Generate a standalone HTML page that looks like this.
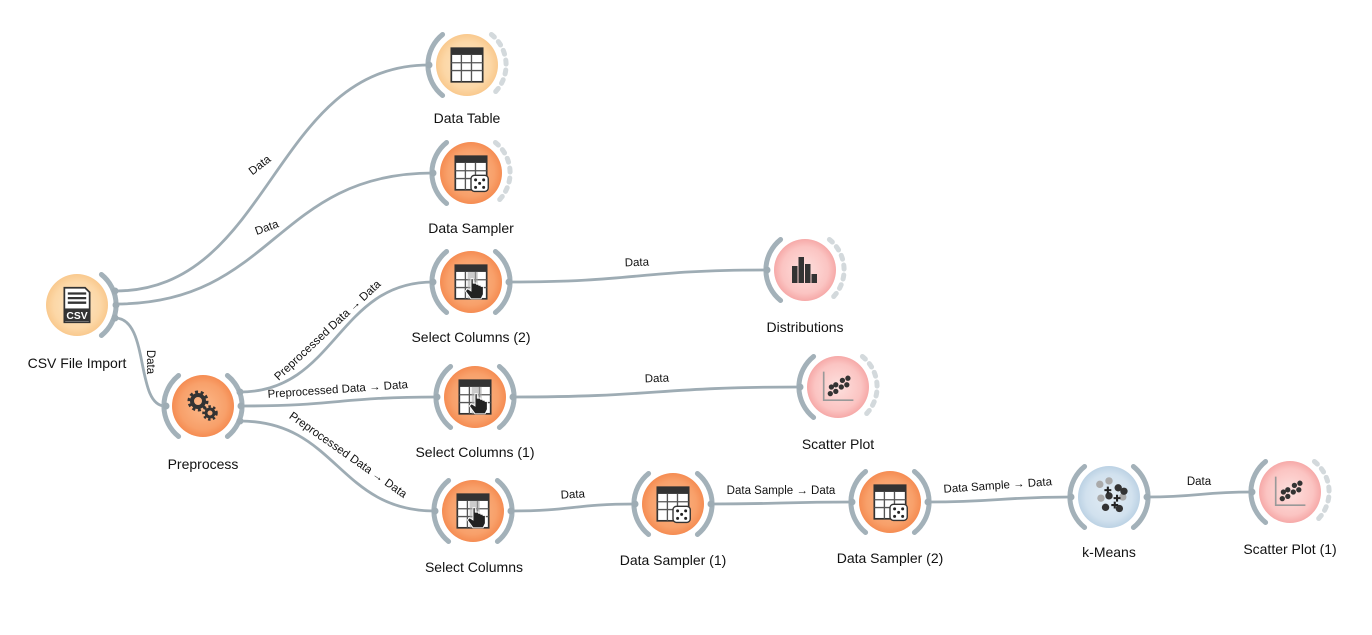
<!DOCTYPE html>
<html><head><meta charset="utf-8"><style>
html,body{margin:0;padding:0;background:#fff;width:1372px;height:635px;overflow:hidden}
svg{display:block}
.lbl{font-family:"Liberation Sans",sans-serif;font-size:14px;fill:#111;text-anchor:middle}
.el{font-family:"Liberation Sans",sans-serif;font-size:11.5px;fill:#111;text-anchor:middle}
.e{fill:none;stroke:#9eacb4;stroke-width:2.8}
</style></head><body>
<svg width="1372" height="635" viewBox="0 0 1372 635" xmlns="http://www.w3.org/2000/svg">
<defs>
<radialGradient id="gLO" cx="50%" cy="50%" r="50%"><stop offset="0" stop-color="#fde6c6"/><stop offset="0.75" stop-color="#fcd7a6"/><stop offset="1" stop-color="#f9c98e"/></radialGradient>
<radialGradient id="gO" cx="50%" cy="50%" r="50%"><stop offset="0" stop-color="#fbb98a"/><stop offset="0.75" stop-color="#f8a06a"/><stop offset="1" stop-color="#f58c52"/></radialGradient>
<radialGradient id="gP" cx="50%" cy="50%" r="50%"><stop offset="0" stop-color="#fde0de"/><stop offset="0.75" stop-color="#fbc4c2"/><stop offset="1" stop-color="#f6a9a8"/></radialGradient>
<radialGradient id="gB" cx="50%" cy="50%" r="50%"><stop offset="0" stop-color="#e3edf5"/><stop offset="0.75" stop-color="#d1e1ee"/><stop offset="1" stop-color="#bcd2e4"/></radialGradient>
<g id="aL"><path d="M-24.4,-30.5 A39 39 0 0 0 -24.4,30.5" fill="none" stroke="#a3b1b9" stroke-width="5" stroke-linecap="round"/></g>
<g id="aR"><path d="M24.4,-30.5 A39 39 0 0 1 24.4,30.5" fill="none" stroke="#a3b1b9" stroke-width="5" stroke-linecap="round"/></g>
<g id="aD"><path d="M24.4,-30.5 A39 39 0 0 1 24.4,30.5" fill="none" stroke="#d3d9dc" stroke-width="5" stroke-dasharray="4 6" stroke-linecap="round"/></g>
<g id="tbl" transform="scale(1.12)">
<rect x="-14" y="-15" width="28" height="30" fill="#fff" stroke="#333" stroke-width="1.5"/>
<rect x="-14" y="-15" width="28" height="6" fill="#333"/>
<path d="M-14,-2H14M-14,5H14M-5,-9V15M4,-9V15" stroke="#555" stroke-width="1.2"/>
</g>
<g id="dice" transform="scale(1.15)">
<rect x="0" y="2" width="15" height="14" rx="3" fill="#fff" stroke="#333" stroke-width="1.2"/>
<circle cx="4" cy="6" r="1.3" fill="#222"/><circle cx="11" cy="6" r="1.3" fill="#222"/><circle cx="7.5" cy="9" r="1.3" fill="#222"/><circle cx="4" cy="12.5" r="1.3" fill="#222"/><circle cx="11" cy="12.5" r="1.3" fill="#222"/>
</g>
<g id="hand" transform="scale(1.12)">
<rect x="-3" y="-9" width="9" height="24" fill="#aaa" opacity="0.6"/>
<path d="M0,-3 v11 l-3,-2 l-2,2 l5,7 h9 l2,-4 v-7 h-2 v-1 h-2 v-1 h-2 v-1 h-3 v-4 z" fill="#222" stroke="#fff" stroke-width="0.8"/>
</g>
<g id="scat" transform="scale(1.1)">
<path d="M-13,-14V12H14" fill="none" stroke="#999" stroke-width="1.5"/>
<g fill="#333"><circle cx="-7" cy="6" r="2.4"/><circle cx="-2" cy="4" r="2.4"/><circle cx="-2" cy="-2" r="2.4"/><circle cx="3" cy="0" r="2.4"/><circle cx="4" cy="-6" r="2.4"/><circle cx="9" cy="-8" r="2.4"/><circle cx="8" cy="-2" r="2.4"/><circle cx="-6" cy="0" r="2.4"/></g>
</g>
</defs>

<path class="e" d="M115 291 C272 291,272 65,429 65"/>
<path class="e" d="M116 304 C274 304,275 173,433 173"/>
<path class="e" d="M115 318 C150 318,135 406,165 406"/>
<path class="e" d="M240 392 C336 392,337 282,433 282"/>
<path class="e" d="M241 406 C339 406,339 397,437 397"/>
<path class="e" d="M240 421 C337 421,338 511,435 511"/>
<path class="e" d="M509 282 C638 282,638 270,767 270"/>
<path class="e" d="M513 397 C656 397,657 387,800 387"/>
<path class="e" d="M511 511 C573 511,573 504,635 504"/>
<path class="e" d="M711 504 C781 504,782 502,852 502"/>
<path class="e" d="M928 502 C999 502,1000 497,1071 497"/>
<path class="e" d="M1147 497 C1199 497,1200 492,1252 492"/>

<text class="el" transform="translate(262,168) rotate(-38)">Data</text>
<text class="el" transform="translate(268,231) rotate(-20)">Data</text>
<text class="el" transform="translate(147,362) rotate(90)">Data</text>
<text class="el" transform="translate(330,333) rotate(-43)">Preprocessed Data → Data</text>
<text class="el" transform="translate(338,393) rotate(-4)">Preprocessed Data → Data</text>
<text class="el" transform="translate(346,458) rotate(35)">Preprocessed Data → Data</text>
<text class="el" transform="translate(637,266) rotate(-2)">Data</text>
<text class="el" transform="translate(657,382) rotate(-2)">Data</text>
<text class="el" transform="translate(573,498) rotate(-3)">Data</text>
<text class="el" transform="translate(781,494)">Data Sample → Data</text>
<text class="el" transform="translate(998,489) rotate(-4)">Data Sample → Data</text>
<text class="el" transform="translate(1199,485)">Data</text>

<g transform="translate(77,305)">
<circle r="31" fill="url(#gLO)"/><use href="#aR"/>
<g transform="scale(1.15)">
<path d="M-11,-15 H7 L11,-11 V15 H-11 Z" fill="#fff" stroke="#333" stroke-width="1.5"/>
<path d="M-8,-10H8M-8,-6H8M-8,-2H8" stroke="#333" stroke-width="2"/>
<rect x="-11" y="3" width="22" height="11" fill="#333"/>
<text x="0" y="12" font-family="Liberation Sans,sans-serif" font-size="9" font-weight="bold" fill="#fff" text-anchor="middle">CSV</text>
</g>
</g>
<circle cx="115" cy="291" r="3.5" fill="#9eacb4"/><circle cx="116" cy="305" r="3.5" fill="#9eacb4"/><circle cx="115" cy="318" r="3.5" fill="#9eacb4"/>
<text class="lbl" x="77" y="368">CSV File Import</text>

<g transform="translate(203,406)">
<circle r="31" fill="url(#gO)"/><use href="#aL"/><use href="#aR"/>
<circle cx="-5" cy="-5" r="6" fill="none" stroke="#333" stroke-width="4"/>
<circle cx="-5" cy="-5" r="9" fill="none" stroke="#333" stroke-width="3" stroke-dasharray="3 2.6"/>
<circle cx="7" cy="7" r="4" fill="none" stroke="#333" stroke-width="3"/>
<circle cx="7" cy="7" r="6.5" fill="none" stroke="#333" stroke-width="2.5" stroke-dasharray="2.5 2.3"/>
</g>
<circle cx="166" cy="406" r="3.5" fill="#9eacb4"/>
<circle cx="240" cy="392" r="3.5" fill="#9eacb4"/><circle cx="241" cy="406" r="3.5" fill="#9eacb4"/><circle cx="240" cy="421" r="3.5" fill="#9eacb4"/>
<text class="lbl" x="203" y="469">Preprocess</text>

<g transform="translate(467,65)"><circle r="31" fill="url(#gLO)"/><use href="#aL"/><use href="#aD"/><use href="#tbl"/></g>
<circle cx="429" cy="65" r="3.5" fill="#9eacb4"/>
<text class="lbl" x="467" y="123">Data Table</text>

<g transform="translate(471,173)"><circle r="31" fill="url(#gO)"/><use href="#aL"/><use href="#aD"/><use href="#tbl"/><use href="#dice"/></g>
<circle cx="433" cy="173" r="3.5" fill="#9eacb4"/>
<text class="lbl" x="471" y="233">Data Sampler</text>

<g transform="translate(471,282)"><circle r="31" fill="url(#gO)"/><use href="#aL"/><use href="#aR"/><use href="#tbl"/><use href="#hand"/></g>
<circle cx="433" cy="282" r="3.5" fill="#9eacb4"/><circle cx="509" cy="282" r="3.5" fill="#9eacb4"/>
<text class="lbl" x="471" y="342">Select Columns (2)</text>

<g transform="translate(805,270)"><circle r="31" fill="url(#gP)"/><use href="#aL"/><use href="#aD"/>
<g fill="#333"><rect x="-13" y="-4" width="5.5" height="17"/><rect x="-6.5" y="-13" width="5.5" height="26"/><rect x="0" y="-6" width="5.5" height="19"/><rect x="6.5" y="4" width="5.5" height="9"/></g></g>
<circle cx="767" cy="270" r="3.5" fill="#9eacb4"/>
<text class="lbl" x="805" y="332">Distributions</text>

<g transform="translate(475,397)"><circle r="31" fill="url(#gO)"/><use href="#aL"/><use href="#aR"/><use href="#tbl"/><use href="#hand"/></g>
<circle cx="437" cy="397" r="3.5" fill="#9eacb4"/><circle cx="513" cy="397" r="3.5" fill="#9eacb4"/>
<text class="lbl" x="475" y="457">Select Columns (1)</text>

<g transform="translate(838,387)"><circle r="31" fill="url(#gP)"/><use href="#aL"/><use href="#aD"/><use href="#scat"/></g>
<circle cx="800" cy="387" r="3.5" fill="#9eacb4"/>
<text class="lbl" x="838" y="449">Scatter Plot</text>

<g transform="translate(473,511)"><circle r="31" fill="url(#gO)"/><use href="#aL"/><use href="#aR"/><use href="#tbl"/><use href="#hand"/></g>
<circle cx="435" cy="511" r="3.5" fill="#9eacb4"/><circle cx="511" cy="511" r="3.5" fill="#9eacb4"/>
<text class="lbl" x="474" y="572">Select Columns</text>

<g transform="translate(673,504)"><circle r="31" fill="url(#gO)"/><use href="#aL"/><use href="#aR"/><use href="#tbl"/><use href="#dice"/></g>
<circle cx="635" cy="504" r="3.5" fill="#9eacb4"/><circle cx="711" cy="504" r="3.5" fill="#9eacb4"/>
<text class="lbl" x="673" y="565">Data Sampler (1)</text>

<g transform="translate(890,502)"><circle r="31" fill="url(#gO)"/><use href="#aL"/><use href="#aR"/><use href="#tbl"/><use href="#dice"/></g>
<circle cx="852" cy="502" r="3.5" fill="#9eacb4"/><circle cx="928" cy="502" r="3.5" fill="#9eacb4"/>
<text class="lbl" x="890" y="563">Data Sampler (2)</text>

<g transform="translate(1109,497)"><circle r="31" fill="url(#gB)"/><use href="#aL"/><use href="#aR"/>
<g transform="scale(1.15)">
<g fill="#aaa"><circle cx="-8" cy="-11" r="3.2"/><circle cx="0" cy="-14" r="3.2"/><circle cx="-7" cy="1" r="3.2"/><circle cx="12" cy="0" r="3.2"/></g>
<g fill="#333"><circle cx="8" cy="-8" r="3.2"/><circle cx="0" cy="-1" r="3.2"/><circle cx="-3" cy="9" r="3.2"/><circle cx="9" cy="10" r="3.2"/><circle cx="13" cy="-5" r="3.2"/></g>
<path d="M-4,-6h6M-1,-9v6M4,1h6M7,-2v6M2,7h6M5,4v6" stroke="#222" stroke-width="1.8"/></g></g>
<circle cx="1071" cy="497" r="3.5" fill="#9eacb4"/><circle cx="1147" cy="497" r="3.5" fill="#9eacb4"/>
<text class="lbl" x="1109" y="557">k-Means</text>

<g transform="translate(1290,492)"><circle r="31" fill="url(#gP)"/><use href="#aL"/><use href="#aD"/><use href="#scat"/></g>
<circle cx="1252" cy="492" r="3.5" fill="#9eacb4"/>
<text class="lbl" x="1290" y="554">Scatter Plot (1)</text>
</svg>
</body></html>
